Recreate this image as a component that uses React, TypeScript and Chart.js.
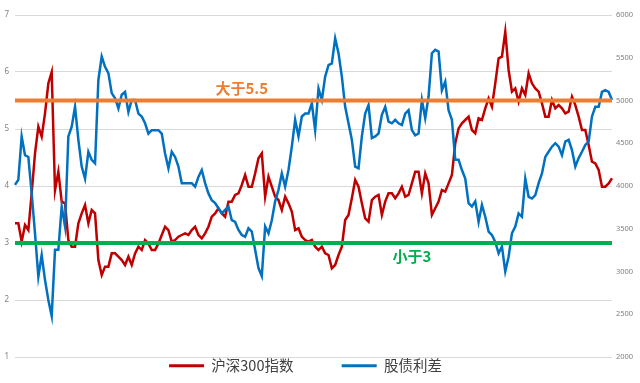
import { useEffect, useRef } from "react";
import { Chart, registerables } from "chart.js";

Chart.register(...registerables);

// 沪深300指数 (right axis)
const hs300: number[] = [
  3563, 3563, 3349, 3544, 3485, 3914, 4382, 4694, 4577, 4850, 5201, 5333, 3950, 4168, 3817, 3797, 3368, 3290, 3290, 3563, 3680, 3778, 3563, 3719, 3680, 3134, 2959, 3057, 3057, 3212,
  3212, 3173, 3134, 3076, 3173, 3076, 3212, 3290, 3251, 3368, 3329, 3251, 3251, 3329, 3427, 3524, 3485, 3349, 3368, 3407, 3427, 3446, 3427, 3485, 3524, 3427, 3388, 3446, 3524, 3641,
  3680, 3739, 3680, 3641, 3817, 3817, 3895, 3914, 4012, 4129, 3992, 3992, 4148, 4324, 4382, 3875, 4109, 3992, 3875, 3836, 3719, 3875, 3797, 3700, 3485, 3505, 3407, 3368, 3349, 3368,
  3290, 3251, 3290, 3212, 3193, 3037, 3076, 3193, 3290, 3602, 3661, 3856, 4070, 3992, 3797, 3622, 3583, 3836, 3875, 3895, 3661, 3817, 3914, 3914, 3856, 3914, 3992, 3875, 3895, 4031,
  4168, 4168, 3914, 4148, 4031, 3661, 3739, 3817, 3953, 3934, 4031, 4129, 4499, 4674, 4733, 4772, 4811, 4655, 4616, 4791, 4772, 4908, 5025, 4928, 5201, 5493, 5513, 5805, 5357, 5103,
  5142, 4986, 5142, 5064, 5318, 5201, 5142, 5103, 4967, 4811, 4811, 5006, 4908, 4947, 4908, 4850, 4869, 5045, 4947, 4811, 4655, 4655, 4480, 4285, 4265, 4187, 3992, 3992, 4031, 4090,
];

// 股债利差 (left axis)
const spread: number[] = [
  4.02, 4.11, 4.87, 4.54, 4.51, 3.87, 3.17, 2.41, 2.79, 2.35, 2.0, 1.72, 2.88, 2.88, 3.64, 3.29, 4.87, 5.04, 5.39, 4.81, 4.34, 4.13, 4.6, 4.46, 4.4, 5.86, 6.27, 6.09, 5.98, 5.63,
  5.54, 5.36, 5.6, 5.65, 5.3, 5.51, 5.51, 5.27, 5.22, 5.1, 4.92, 4.98, 4.98, 4.98, 4.92, 4.57, 4.31, 4.6, 4.51, 4.34, 4.05, 4.05, 4.05, 4.05, 3.99, 4.16, 4.28, 4.05, 3.87, 3.75,
  3.7, 3.61, 3.52, 3.58, 3.64, 3.4, 3.37, 3.23, 3.14, 3.11, 3.26, 3.2, 2.88, 2.56, 2.42, 3.29, 3.17, 3.4, 3.73, 3.93, 4.22, 3.99, 4.28, 4.69, 5.16, 4.87, 5.22, 5.27, 5.27, 5.45,
  4.98, 5.71, 5.51, 5.92, 6.12, 6.15, 6.59, 6.33, 5.92, 5.39, 5.1, 4.81, 4.34, 4.31, 4.87, 5.27, 5.42, 4.84, 4.87, 4.92, 5.25, 5.39, 5.13, 5.1, 5.16, 5.1, 5.07, 5.27, 5.33, 4.98,
  4.89, 4.92, 5.51, 5.19, 5.57, 6.33, 6.39, 6.36, 5.68, 5.83, 5.33, 5.16, 4.46, 4.46, 4.28, 4.13, 3.7, 3.64, 3.73, 3.37, 3.67, 3.46, 3.2, 3.14, 3.02, 2.82, 2.94, 2.5, 2.76, 3.17,
  3.29, 3.52, 3.46, 4.13, 3.81, 3.78, 3.84, 4.05, 4.22, 4.51, 4.6, 4.69, 4.75, 4.69, 4.54, 4.78, 4.81, 4.63, 4.34, 4.49, 4.6, 4.72, 4.78, 5.22, 5.39, 5.39, 5.65, 5.68, 5.65, 5.51,
];

const seriesNames = ["沪深300指数", "股债利差"];
const upperLevel = 5.5;
const lowerLevel = 3;
const upperText = "大于5.5";
const lowerText = "小于3";
const upperTextAt = 68;
const lowerTextAt = 119;
const leftRange = [1, 7];
const rightRange = [2000, 6000];

export default function App() {
  const ref = useRef<HTMLCanvasElement>(null);

  useEffect(() => {
    if (!ref.current) return;
    const labels = spread.map((_, i) => String(i));

    const bandText = {
      id: "bandText",
      afterDatasetsDraw(chart: any) {
        const { ctx, scales } = chart;
        const x = scales.x;
        const y = scales.y;
        ctx.save();
        ctx.font = 'bold 15px "Noto Sans CJK SC"';
        ctx.textAlign = "center";
        ctx.textBaseline = "middle";
        ctx.fillStyle = "#ED7D31";
        ctx.fillText(upperText, x.getPixelForValue(upperTextAt), y.getPixelForValue(upperLevel) - 12);
        ctx.fillStyle = "#00B050";
        ctx.fillText(lowerText, x.getPixelForValue(lowerTextAt), y.getPixelForValue(lowerLevel) + 13);
        ctx.restore();
      },
    };

    const trailing = ["\u3000\u3000\u3000 ", "\u3000\u3000"];
    const defaultGen = (Chart as any).defaults.plugins.legend.labels.generateLabels;

    const chart = new Chart(ref.current, {
      type: "line",
      data: {
        labels,
        datasets: [
          {
            label: "upper",
            data: labels.map(() => upperLevel),
            yAxisID: "y",
            borderColor: "#ED7D31",
            backgroundColor: "#ED7D31",
            borderWidth: 4,
            pointRadius: 0,
            order: 0,
          },
          {
            label: "lower",
            data: labels.map(() => lowerLevel),
            yAxisID: "y",
            borderColor: "#00B050",
            backgroundColor: "#00B050",
            borderWidth: 4,
            pointRadius: 0,
            order: 0,
          },
          {
            label: seriesNames[0],
            data: hs300,
            yAxisID: "y1",
            borderColor: "#C00000",
            backgroundColor: "#C00000",
            borderWidth: 2.5,
            pointRadius: 0,
            tension: 0,
            order: 2,
          },
          {
            label: seriesNames[1],
            data: spread,
            yAxisID: "y",
            borderColor: "#0070C0",
            backgroundColor: "#0070C0",
            borderWidth: 2.5,
            pointRadius: 0,
            tension: 0,
            order: 1,
          },
        ],
      },
      options: {
        animation: false,
        responsive: true,
        maintainAspectRatio: false,
        layout: { padding: { top: 15, bottom: 0, left: 0, right: 0 } },
        plugins: {
          tooltip: { enabled: false },
          legend: {
            position: "bottom",
            labels: {
              generateLabels: (chart: any) => {
                const items = defaultGen(chart)
                  .filter((it: any) => seriesNames.includes(it.text))
                  .sort((a: any, b: any) => a.datasetIndex - b.datasetIndex);
                items.forEach((it: any, i: number) => {
                  it.text = it.text + (trailing[i] || "");
                  it.lineWidth = 0;
                });
                return items;
              },
              boxWidth: 35,
              boxHeight: 3,
              padding: 1.5,
              color: "#404040",
              font: { family: '"Noto Sans CJK SC"', size: 14.5 },
            },
          },
        },
        scales: {
          x: { display: false, offset: false },
          y: {
            position: "left",
            min: leftRange[0],
            max: leftRange[1],
            ticks: { stepSize: 1, color: "#7f7f7f", padding: 6, font: { family: '"Noto Sans"', size: 8 } },
            grid: { color: "#d9d9d9", drawTicks: false },
            border: { display: false },
            afterFit: (s: any) => {
              s.width = 15;
              s.paddingTop = 0;
              s.paddingBottom = 0;
            },
          },
          y1: {
            position: "right",
            min: rightRange[0],
            max: rightRange[1],
            ticks: {
              stepSize: 500,
              color: "#7f7f7f",
              padding: 4,
              font: { family: '"Noto Sans"', size: 7.5 },
              callback: (v: any) => String(v),
            },
            grid: { display: false, drawTicks: false },
            border: { display: false },
            afterFit: (s: any) => {
              s.width = 28;
              s.paddingTop = 0;
              s.paddingBottom = 0;
            },
          },
        },
      },
      plugins: [bandText],
    });
    return () => chart.destroy();
  }, []);

  return (
    <div style={{ position: "fixed", left: 0, top: 0, width: 640, height: 383, background: "#fff" }}>
      <canvas ref={ref} />
    </div>
  );
}
